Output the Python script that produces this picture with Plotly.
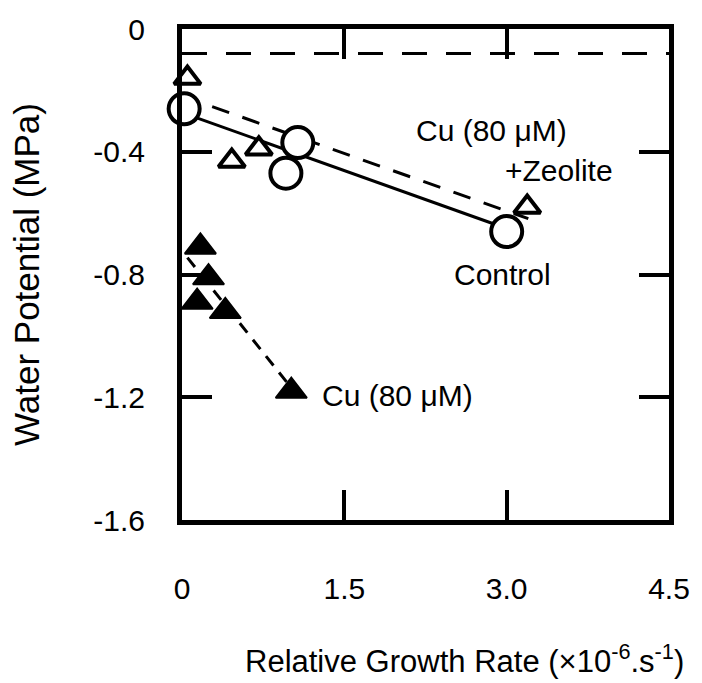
import plotly.graph_objects as go

# ---------------- data ----------------
# Control (open circles) and its fitted line
control_x = [0.02, 1.07, 0.96, 3.0]
control_y = [-0.26, -0.37, -0.47, -0.66]
control_fit_x = [0.02, 3.0]
control_fit_y = [-0.275, -0.65]

# Cu (80 uM) + Zeolite (open triangles) and its fitted line
zeolite_x = [0.05, 0.46, 0.71, 3.19]
zeolite_y = [-0.16, -0.43, -0.39, -0.58]
zeolite_fit_x = [0.0, 3.2]
zeolite_fit_y = [-0.218, -0.618]

# Cu (80 uM) (filled triangles) and its fitted line
cu_x = [0.17, 0.245, 0.14, 0.40, 1.01]
cu_y = [-0.71, -0.81, -0.89, -0.92, -1.18]
cu_fit_x = [0.05, 1.0]
cu_fit_y = [-0.745, -1.165]

# horizontal dashed reference level
ref_x = [0.0, 4.5]
ref_y = [-0.08, -0.08]

x_tickvals = [0, 1.5, 3.0, 4.5]
x_ticktext = ["0", "1.5", "3.0", "4.5"]
y_tickvals = [0, -0.4, -0.8, -1.2, -1.6]
y_ticktext = ["0", "-0.4", "-0.8", "-1.2", "-1.6"]

FONT = "Arial, Liberation Sans, Helvetica, sans-serif"
BLACK = "#000000"

fig = go.Figure()

# lines first
fig.add_trace(go.Scatter(x=ref_x, y=ref_y, mode="lines",
                         line=dict(color=BLACK, width=3, dash="25px,19px"),
                         showlegend=False, hoverinfo="skip"))
fig.add_trace(go.Scatter(x=control_fit_x, y=control_fit_y, mode="lines",
                         line=dict(color=BLACK, width=3),
                         showlegend=False, hoverinfo="skip"))
fig.add_trace(go.Scatter(x=zeolite_fit_x, y=zeolite_fit_y, mode="lines",
                         line=dict(color=BLACK, width=3, dash="18px,14px"),
                         showlegend=False, hoverinfo="skip"))
fig.add_trace(go.Scatter(x=cu_fit_x, y=cu_fit_y, mode="lines",
                         line=dict(color=BLACK, width=3, dash="12px,9px"),
                         showlegend=False, hoverinfo="skip"))

# markers
fig.add_trace(go.Scatter(x=zeolite_x, y=zeolite_y, mode="markers", name="Cu (80 μM) +Zeolite",
                         marker=dict(symbol="triangle-up", size=23, color="white",
                                     line=dict(color=BLACK, width=4)),
                         cliponaxis=False, showlegend=False))
fig.add_trace(go.Scatter(x=control_x, y=control_y, mode="markers", name="Control",
                         marker=dict(symbol="circle", size=31, color="white",
                                     line=dict(color=BLACK, width=4)),
                         cliponaxis=False, showlegend=False))
fig.add_trace(go.Scatter(x=cu_x, y=cu_y, mode="markers", name="Cu (80 μM)",
                         marker=dict(symbol="triangle-up", size=27, color=BLACK,
                                     line=dict(color=BLACK, width=2)),
                         cliponaxis=False, showlegend=False))

ann_font = dict(family=FONT, size=30, color=BLACK)
annotations = [
    dict(x=2.86, y=-0.332, text="Cu (80 μM)"),
    dict(x=3.48, y=-0.462, text="+Zeolite"),
    dict(x=2.96, y=-0.80, text="Control"),
    dict(x=1.99, y=-1.195, text="Cu (80 μM)"),
]
for a in annotations:
    a.update(xref="x", yref="y", showarrow=False, font=ann_font,
             xanchor="center", yanchor="middle")

# x-axis title (sits slightly right of the plot centre in the original)
annotations.append(dict(
    xref="paper", yref="paper", x=0.58, y=-0.283, showarrow=False,
    xanchor="center", yanchor="middle",
    text="Relative Growth Rate (×10<sup>-6</sup>.s<sup>-1</sup>)",
    font=dict(family=FONT, size=31, color=BLACK)))

axis_common = dict(
    showline=True, linecolor=BLACK, linewidth=5, mirror="ticks",
    ticks="inside", ticklen=30, tickwidth=4, tickcolor=BLACK,
    showgrid=False, zeroline=False,
    tickfont=dict(family=FONT, size=30, color=BLACK),
)

fig.update_layout(
    width=702, height=683,
    margin=dict(l=182, r=24, t=28, b=163),
    paper_bgcolor="white", plot_bgcolor="white",
    font=dict(family=FONT, color=BLACK),
    annotations=annotations,
    xaxis=dict(range=[0, 4.5], tickvals=x_tickvals, ticktext=x_ticktext,
               ticklabelstandoff=38, **axis_common),
    yaxis=dict(range=[-1.6, 0], tickvals=y_tickvals, ticktext=y_ticktext,
               ticklabelstandoff=26,
               title=dict(text="Water Potential (MPa)",
                          font=dict(family=FONT, size=35, color=BLACK), standoff=45),
               **axis_common),
)

fig.write_html("out.html")
